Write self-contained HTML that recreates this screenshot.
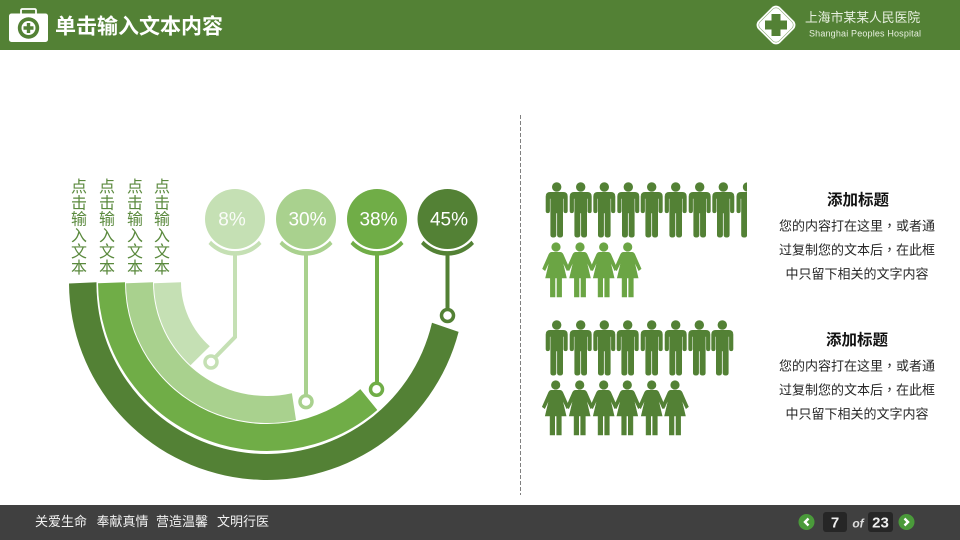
<!DOCTYPE html>
<html>
<head>
<meta charset="utf-8">
<style>
html,body{margin:0;padding:0;background:#fff;width:960px;height:540px;overflow:hidden}
svg{display:block}
text{font-family:"Liberation Sans","Noto Sans CJK SC",sans-serif}
tspan.c{font-family:"Noto Sans CJK TC",sans-serif}
</style>
</head>
<body>
<svg width="960" height="540" viewBox="0 0 960 540" xmlns="http://www.w3.org/2000/svg">
<defs>
<g id="man">
<circle cx="0" cy="0" r="4.4"/>
<path d="M-6.5 5.3H6.5Q10.7 5.3 10.7 9.5V24Q10.7 25.8 8.9 25.8Q7.1 25.8 7.1 24V11.5H6V48Q6 50.2 3.4 50.2Q.7 50.2 .7 48V26H-.7V48Q-.7 50.2-3.4 50.2Q-6 50.2-6 48V11.5H-7.1V24Q-7.1 25.8-8.9 25.8Q-10.7 25.8-10.7 24V9.5Q-10.7 5.3-6.5 5.3Z"/>
</g>
<g id="woman">
<circle cx="0" cy="0" r="4.3"/>
<path d="M-4 5.3H4Q6 5.3 7 7.3L13.4 21.8L11 23.6L6.4 14L10.4 31H5.6V50H1V31H-1V50H-5.6V31H-10.4L-6.4 14L-11 23.6L-13.4 21.8L-7 7.3Q-6 5.3-4 5.3Z"/>
</g>
<clipPath id="rowclip"><rect x="540" y="170" width="207" height="70"/></clipPath>
</defs>

<!-- Header -->
<rect x="0" y="0" width="960" height="50" fill="#538135"/>
<path d="M21 14V10.5Q21 9 22.5 9H34.5Q36 9 36 10.5V14" fill="none" stroke="#fff" stroke-width="1.8"/>
<rect x="9" y="13.5" width="39" height="28.5" rx="2.5" fill="#fff"/>
<circle cx="28.5" cy="28" r="10.7" fill="#538135"/>
<circle cx="28.5" cy="28" r="7" fill="#fff"/>
<path d="M26.8 23h3.4v3.3h3.3v3.4h-3.3V33h-3.4v-3.3h-3.3v-3.4h3.3z" fill="#538135"/>
<text x="55" y="33.5" font-size="21" font-weight="bold" fill="#fff">单击输入文本内容</text>

<!-- Logo -->
<rect x="760.5" y="9.5" width="31" height="31" rx="6" fill="#fff" transform="rotate(45 776 25)"/>
<rect x="762.5" y="11.5" width="27" height="27" rx="4.5" fill="none" stroke="#538135" stroke-width=".6" stroke-opacity=".7" transform="rotate(45 776 25)"/>
<path d="M771.5 14h9v6.5h6.5v9h-6.5V36h-9v-6.5H765v-9h6.5z" fill="#538135"/>
<text x="805" y="22" font-size="12.8" fill="#e8f0e0">上海市某某人民医院</text>
<text x="809" y="36.5" font-size="9" fill="#e8f0e0" textLength="112">Shanghai Peoples Hospital</text>

<!-- Vertical labels -->
<g font-size="16" fill="#5b8a3e" text-anchor="middle">
<g><text x="79" y="192">点</text><text x="79" y="208.5">击</text><text x="79" y="224.5">输</text><text x="79" y="241">入</text><text x="79" y="257">文</text><text x="79" y="273">本</text></g>
<g><text x="107" y="192">点</text><text x="107" y="208.5">击</text><text x="107" y="224.5">输</text><text x="107" y="241">入</text><text x="107" y="257">文</text><text x="107" y="273">本</text></g>
<g><text x="135" y="192">点</text><text x="135" y="208.5">击</text><text x="135" y="224.5">输</text><text x="135" y="241">入</text><text x="135" y="257">文</text><text x="135" y="273">本</text></g>
<g><text x="162" y="192">点</text><text x="162" y="208.5">击</text><text x="162" y="224.5">输</text><text x="162" y="241">入</text><text x="162" y="257">文</text><text x="162" y="273">本</text></g>
</g>

<!-- Arcs -->
<path d="M69 283.5A198 198 0 0 0 458.6 331.9L432 322.8A170 170 0 0 1 96.5 282.3Z" fill="#538135"/>
<path d="M98 283.3A169 169 0 0 0 377.3 410L360.3 389.1A142 142 0 0 1 125 282.3Z" fill="#70AD47"/>
<path d="M126 283.3A141 141 0 0 0 296 420L291.9 393.3A114 114 0 0 1 153 282.3Z" fill="#A9D18E"/>
<path d="M154 283.3A113 113 0 0 0 190.5 365.2L209.8 346.2A86 86 0 0 1 181 282.3Z" fill="#C5E0B4"/>

<!-- Pins -->
<g fill="none" stroke-width="4">
<path d="M235 252V337L215.5 357" stroke="#C5E0B4"/>
<circle cx="211" cy="362" r="6" stroke="#C5E0B4" stroke-width="3.5"/>
<path d="M306 252V395" stroke="#A9D18E"/>
<circle cx="306" cy="401.6" r="6" stroke="#A9D18E" stroke-width="3.5"/>
<path d="M377 252V383" stroke="#70AD47"/>
<circle cx="376.5" cy="389.3" r="6" stroke="#70AD47" stroke-width="3.5"/>
<path d="M447.5 252V309" stroke="#538135"/>
<circle cx="447.5" cy="315.5" r="6" stroke="#538135" stroke-width="3.5"/>
</g>

<!-- Circles -->
<circle cx="235" cy="219" r="30" fill="#C5E0B4"/>
<path d="M208.5 244L211 240.8A33 33 0 0 0 259 240.8L261.5 244A36 36 0 0 1 208.5 244Z" fill="#C5E0B4"/>
<circle cx="306" cy="219" r="30" fill="#A9D18E"/>
<path d="M279.5 244L282 240.8A33 33 0 0 0 330 240.8L332.5 244A36 36 0 0 1 279.5 244Z" fill="#A9D18E"/>
<circle cx="377" cy="219" r="30" fill="#70AD47"/>
<path d="M350.5 244L353 240.8A33 33 0 0 0 401 240.8L403.5 244A36 36 0 0 1 350.5 244Z" fill="#70AD47"/>
<circle cx="447.5" cy="219" r="30" fill="#538135"/>
<path d="M421 244L423.5 240.8A33 33 0 0 0 471.5 240.8L474 244A36 36 0 0 1 421 244Z" fill="#538135"/>
<g font-size="19" fill="#fff" text-anchor="middle">
<text x="232" y="225.5" fill-opacity=".9">8%</text>
<text x="307.5" y="225.5">30%</text>
<text x="378.5" y="225.5">38%</text>
<text x="449" y="225.5">45%</text>
</g>

<!-- Divider -->
<line x1="520.5" y1="115" x2="520.5" y2="495" stroke="#808080" stroke-width="1" stroke-dasharray="4 2"/>

<!-- People -->
<g fill="#538135" stroke="#538135" stroke-width=".6">
<g clip-path="url(#rowclip)">
<use href="#man" x="556.7" y="187"/><use href="#man" x="580.7" y="187"/><use href="#man" x="604.3" y="187"/><use href="#man" x="628.3" y="187"/><use href="#man" x="651.7" y="187"/><use href="#man" x="675.7" y="187"/><use href="#man" x="699.7" y="187"/><use href="#man" x="723.3" y="187"/><use href="#man" x="747.5" y="187"/>
</g>
<use href="#man" x="556.7" y="325"/><use href="#man" x="580.7" y="325"/><use href="#man" x="604.3" y="325"/><use href="#man" x="627.7" y="325"/><use href="#man" x="651.7" y="325"/><use href="#man" x="675.7" y="325"/><use href="#man" x="699.3" y="325"/><use href="#man" x="722.3" y="325"/>
<use href="#woman" x="555.7" y="385"/><use href="#woman" x="579.7" y="385"/><use href="#woman" x="603.7" y="385"/><use href="#woman" x="627.3" y="385"/><use href="#woman" x="651.7" y="385"/><use href="#woman" x="675" y="385"/>
</g>
<g fill="#6BA544" stroke="#6BA544" stroke-width=".6">
<use href="#woman" x="556" y="247"/><use href="#woman" x="580" y="247"/><use href="#woman" x="603.7" y="247"/><use href="#woman" x="627.7" y="247"/>
</g>

<!-- Right text -->
<g text-anchor="middle" fill="#262626">
<text x="858" y="205" font-size="15.5" font-weight="bold" fill="#111">添加标题</text>
<text x="857" y="230.5" font-size="13">您的内容打在这里<tspan class="c">，</tspan>或者通</text>
<text x="857" y="254.5" font-size="13">过复制您的文本后<tspan class="c">，</tspan>在此框</text>
<text x="857" y="278.5" font-size="13">中只留下相关的文字内容</text>
<text x="857" y="345" font-size="15.5" font-weight="bold" fill="#111">添加标题</text>
<text x="857" y="370.5" font-size="13">您的内容打在这里<tspan class="c">，</tspan>或者通</text>
<text x="857" y="394.5" font-size="13">过复制您的文本后<tspan class="c">，</tspan>在此框</text>
<text x="857" y="418.5" font-size="13">中只留下相关的文字内容</text>
</g>

<!-- Footer -->
<rect x="0" y="505" width="960" height="35" fill="#404040"/>
<g font-size="13" fill="#f2f2f2">
<text x="35" y="526">关爱生命</text>
<text x="96.5" y="526">奉献真情</text>
<text x="156" y="526">营造温馨</text>
<text x="217" y="526">文明行医</text>
</g>
<circle cx="806.5" cy="522" r="8" fill="#4A9A3A"/>
<path d="M808.5 518.5L805 522L808.5 525.5" fill="none" stroke="#fff" stroke-width="2.4"/>
<rect x="823" y="512" width="24" height="20" rx="3" fill="#262626"/>
<text x="835" y="527.5" font-size="15" font-weight="bold" fill="#eee" text-anchor="middle">7</text>
<text x="858" y="527.5" font-size="12" font-weight="bold" font-style="italic" fill="#ddd" text-anchor="middle">of</text>
<rect x="868" y="512" width="25" height="20" rx="3" fill="#262626"/>
<text x="880.5" y="527.5" font-size="15" font-weight="bold" fill="#eee" text-anchor="middle">23</text>
<circle cx="906.5" cy="522" r="8" fill="#4A9A3A"/>
<path d="M904.5 518.5L908 522L904.5 525.5" fill="none" stroke="#fff" stroke-width="2.4"/>
</svg>
</body>
</html>
